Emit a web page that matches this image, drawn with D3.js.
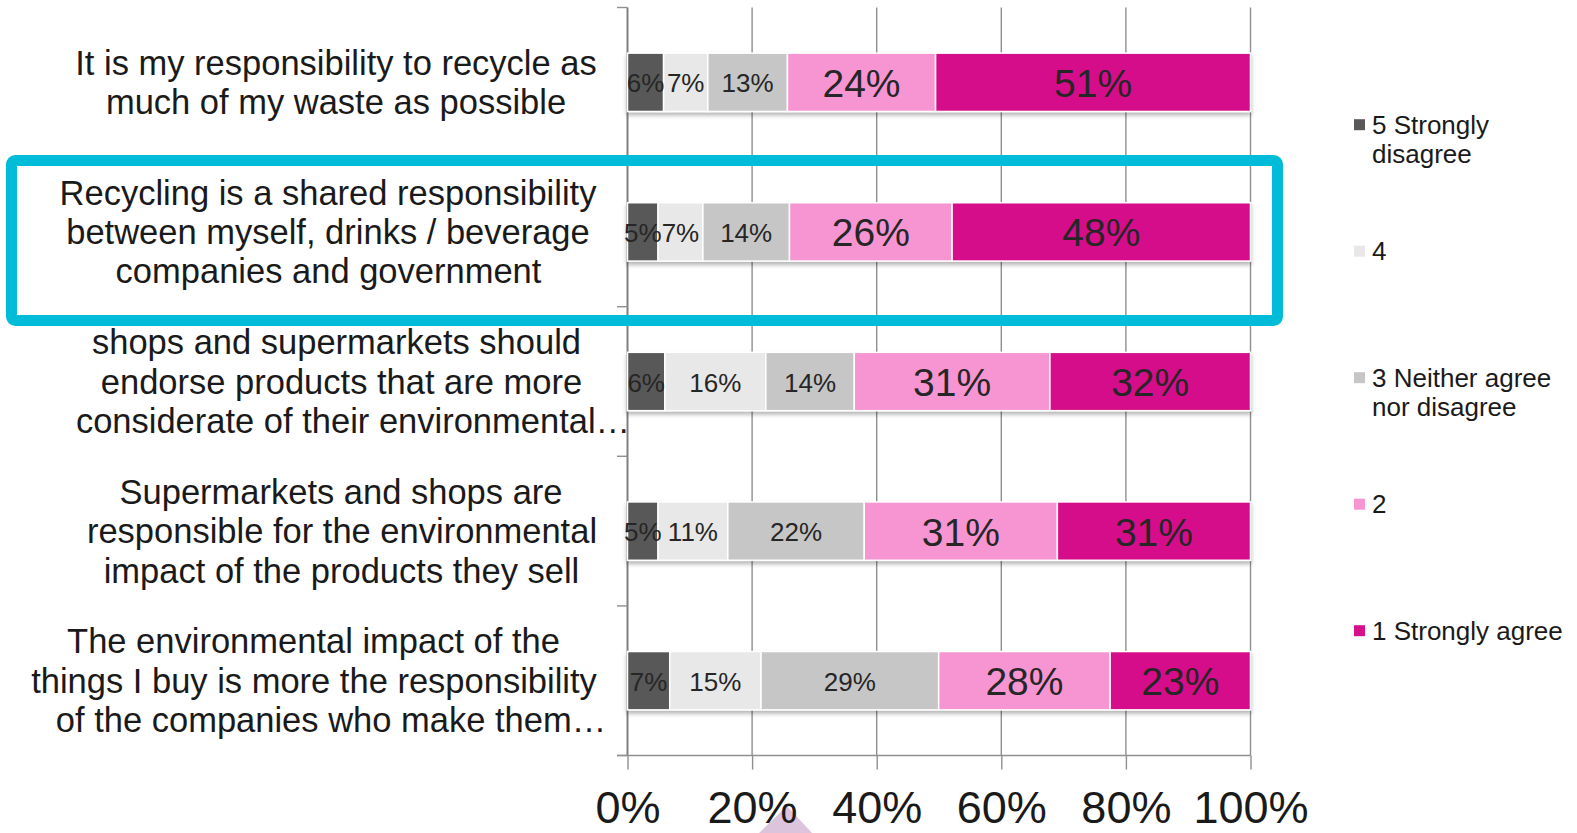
<!DOCTYPE html>
<html>
<head>
<meta charset="utf-8">
<script src="https://cdn.jsdelivr.net/npm/d3@7"></script>
<style>
  html, body { margin: 0; padding: 0; background: #ffffff; }
  svg { display: block; font-family: "Liberation Sans", Arial, sans-serif; }
</style>
</head>
<body>
<svg id="chart" width="1577" height="833"></svg>
<script>
// ---------- data ----------
const categories = [
  ["It is my responsibility to recycle as", "much of my waste as possible"],
  ["Recycling is a shared responsibility", "between myself, drinks / beverage", "companies and government"],
  ["shops and supermarkets should", "endorse products that are more", "considerate of their environmental\u2026"],
  ["Supermarkets and shops are", "responsible for the environmental", "impact of the products they sell"],
  ["The environmental impact of the", "things I buy is more the responsibility", "of the companies who make them\u2026"]
];
const seriesNames = ["5 Strongly disagree", "4", "3 Neither agree nor disagree", "2", "1 Strongly agree"];
const legendLines = [["5 Strongly", "disagree"], ["4"], ["3 Neither agree", "nor disagree"], ["2"], ["1 Strongly agree"]];
const s5 = [5.8, 4.9, 6.0, 4.9, 6.8];      // 5 Strongly disagree
const s4 = [7.1, 7.2, 16.2, 11.2, 14.7];   // 4
const s3 = [12.8, 13.9, 14.2, 21.9, 28.6]; // 3 Neither agree nor disagree
const s2 = [23.8, 26.1, 31.4, 31.0, 27.6]; // 2
const s1 = [50.6, 47.9, 32.2, 31.0, 22.6]; // 1 Strongly agree
const tickValues = [0, 0.2, 0.4, 0.6, 0.8, 1.0];
const tickLabels = ["0%", "20%", "40%", "60%", "80%", "100%"];

// ---------- styles / layout ----------
const colors = ["#595959", "#e8e8e8", "#c6c6c6", "#f795d2", "#d6108a"];
const labelSizes = [26, 26, 26, 39, 39];
const lineCenters = [
  [336, 336],
  [328, 328, 328.5],
  [336.5, 341.5, 353],
  [341, 342, 341.5],
  [313.5, 314, 331]
];

const svg = d3.select("#chart");
const X0 = 627.5, X1 = 1250.5, Y0 = 7.5, Y1 = 755.5;

const x = d3.scaleLinear().domain([0, 1]).range([X0, X1]);
const y = d3.scaleBand().domain(d3.range(categories.length)).range([Y0, Y1])
  .paddingInner(0.61).paddingOuter(0.305);
const boundary = d3.scaleLinear().domain([0, categories.length]).range([Y0, Y1]);

// table for the stack
const rows = categories.map((c, i) => {
  const vals = [s5[i], s4[i], s3[i], s2[i], s1[i]];
  const tot = d3.sum(vals);
  const r = { idx: i, raw: vals };
  vals.forEach((v, k) => r["k" + k] = v / tot);
  return r;
});
const keys = seriesNames.map((_, k) => "k" + k);
const stacked = d3.stack().keys(keys)(rows);

// defs
const defs = svg.append("defs");
const f = defs.append("filter").attr("id", "shadow").attr("x", "-5%").attr("y", "-20%").attr("width", "110%").attr("height", "150%");
f.append("feDropShadow").attr("dx", 0).attr("dy", 3).attr("stdDeviation", 2)
  .attr("flood-color", "#000").attr("flood-opacity", 0.3);

// decorative triangle near bottom
svg.append("path")
  .attr("d", "M787,806 L759,833 L812,833 Z")
  .attr("fill", "#dcc4dc");

// gridlines
svg.append("g").selectAll("line").data(tickValues).join("line")
  .attr("x1", d => x(d)).attr("x2", d => x(d))
  .attr("y1", Y0).attr("y2", Y1)
  .attr("stroke", d => d === 0 ? "#808080" : "#8f8f8f")
  .attr("stroke-width", d => d === 0 ? 2 : 1.4);

// category boundary ticks (left)
svg.append("g").selectAll("line").data(d3.range(categories.length + 1)).join("line")
  .attr("x1", X0 - 10.5).attr("x2", X0)
  .attr("y1", d => boundary(d)).attr("y2", d => boundary(d))
  .attr("stroke", "#8f8f8f").attr("stroke-width", 1.4);

// bottom axis
const xAxis = d3.axisBottom(x).tickValues(tickValues)
  .tickFormat((d, i) => tickLabels[i]).tickSize(14).tickPadding(21.5);
const gx = svg.append("g").attr("transform", `translate(0,${Y1})`).call(xAxis);
gx.select(".domain").remove();
gx.selectAll(".tick line").attr("stroke", "#8f8f8f").attr("stroke-width", 1.4);
gx.selectAll(".tick text").attr("font-size", 45).attr("fill", "#1a1a1a")
  .attr("font-family", "'Liberation Sans', Arial, sans-serif");
svg.append("line").attr("x1", X0 - 10.5).attr("x2", X1).attr("y1", Y1).attr("y2", Y1)
  .attr("stroke", "#8f8f8f").attr("stroke-width", 1.4);

// bars
const barG = svg.append("g").selectAll("g.row").data(rows).join("g").attr("class", "row")
  .attr("filter", "url(#shadow)");
barG.each(function(r) {
  const g = d3.select(this);
  stacked.forEach((layer, k) => {
    const seg = layer[r.idx];
    g.append("rect")
      .attr("x", x(seg[0])).attr("y", y(r.idx))
      .attr("width", x(seg[1]) - x(seg[0])).attr("height", y.bandwidth())
      .attr("fill", colors[k]).attr("stroke", "#ffffff").attr("stroke-width", 1.5);
  });
});

// data labels
const labG = svg.append("g");
rows.forEach(r => {
  stacked.forEach((layer, k) => {
    const seg = layer[r.idx];
    labG.append("text")
      .attr("x", (x(seg[0]) + x(seg[1])) / 2)
      .attr("y", y(r.idx) + y.bandwidth() / 2 + 1)
      .attr("text-anchor", "middle").attr("dominant-baseline", "central")
      .attr("font-size", labelSizes[k]).attr("fill", "#262626")
      .text(Math.round(r.raw[k]) + "%");
  });
});

// category labels
const catG = svg.append("g");
categories.forEach((lines, i) => {
  const cy = y(i) + y.bandwidth() / 2;
  lines.forEach((t, j) => {
    catG.append("text")
      .attr("x", lineCenters[i][j])
      .attr("y", cy + (j - (lines.length - 1) / 2) * 39.4)
      .attr("text-anchor", "middle").attr("dominant-baseline", "central")
      .attr("font-size", 34.5).attr("fill", "#1a1a1a")
      .text(t);
  });
});

// legend
const legG = svg.append("g");
legendLines.forEach((lines, k) => {
  const cy = 124.7 + k * 126.5;
  legG.append("rect").attr("x", 1354).attr("y", cy - 5.5).attr("width", 11).attr("height", 11)
    .attr("fill", colors[k]);
  lines.forEach((t, j) => {
    legG.append("text").attr("x", 1372).attr("y", cy + j * 28.8)
      .attr("dominant-baseline", "central").attr("font-size", 26).attr("fill", "#1a1a1a")
      .text(t);
  });
});

// highlight box
svg.append("rect")
  .attr("x", 11.5).attr("y", 160.5).attr("width", 1266).attr("height", 160)
  .attr("rx", 4).attr("fill", "none").attr("stroke", "#00bcd9").attr("stroke-width", 11);
</script>
</body>
</html>
